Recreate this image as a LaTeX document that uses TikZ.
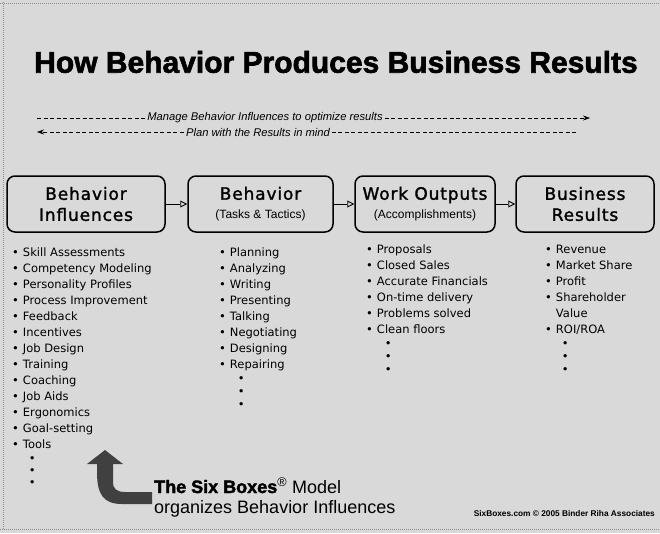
\documentclass[tikz,border=0pt]{standalone}
\usepackage{fontspec}
\setmainfont{Liberation Sans}
\newfontfamily\headfont[FakeBold=1.5,LetterSpace=5]{DejaVu Sans}
\newfontfamily\listfont{DejaVu Sans}
\newfontfamily\heavyfont[BoldFeatures={FakeBold=2}]{Liberation Sans}
\usetikzlibrary{arrows.meta,positioning}
\definecolor{scan}{gray}{0.85}
\tikzset{
  stage/.style={draw,line width=1.5pt,rounded corners=8pt,fill=scan,inner sep=0pt,
    minimum height=56pt,align=center,font=\headfont\fontsize{17}{21}\selectfont},
  flow/.style={line width=0.9pt,-{Triangle[open,length=7pt,width=7pt]}},
  guide/.style={line width=0.6pt,dash pattern=on 4pt off 2.5pt},
  itemlist/.style={anchor=north west,inner sep=0pt,align=left,
    font=\listfont\fontsize{11.5}{16}\selectfont},
}
\newcommand{\subline}[1]{{\fontspec{Liberation Sans}\fontsize{12}{14}\selectfont #1}}
\begin{document}
\begin{tikzpicture}[x=1pt,y=-1pt]
\useasboundingbox (0,0) rectangle (660,533);
\fill[scan] (0,0) rectangle (660,533);
\draw[black!45,line width=1pt,dash pattern=on 1pt off 1pt] (3,2) -- (3,530);
\draw[black!45,line width=1pt,dash pattern=on 1pt off 1pt] (0,3) -- (660,3);
\draw[black!45,line width=1pt,dash pattern=on 1pt off 1pt] (0,529) -- (660,529);
% title
\node[inner sep=0pt] (title) at (336,62) {\heavyfont\fontsize{30}{36}\selectfont\bfseries How Behavior Produces Business Results};
% dashed guides
\coordinate (manages) at (37,118);
\coordinate (managee) at (590,118);
\node[fill=scan,inner sep=2pt,font=\itshape\fontsize{11.2}{13}\selectfont] (manage) at (265,118) {Manage Behavior Influences to optimize results};
\draw[guide] (manages) -- (manage);
\draw[guide,-{Stealth[length=7pt,width=5pt]}] (manage) -- (managee);
\coordinate (plans) at (576,132);
\coordinate (plane) at (37,132);
\node[fill=scan,inner sep=2pt,font=\itshape\fontsize{11.2}{13}\selectfont] (plan) at (258,132) {Plan with the Results in mind};
\draw[guide] (plans) -- (plan);
\draw[guide,-{Stealth[length=7pt,width=5pt]}] (plan) -- (plane);
% the four boxes
\node[stage,minimum width=158pt] (influences) at (86,204) {Behavior\\Influences};
\node[stage,minimum width=145pt] (behavior) at (260.5,204) {Behavior\\[-2pt]\subline{(Tasks \& Tactics)}};
\node[stage,minimum width=140pt] (outputs) at (425,204) {Work Outputs\\[-2pt]\subline{(Accomplishments)}};
\node[stage,minimum width=138pt] (results) at (585,204) {Business\\Results};
\draw[flow] (influences) -- (behavior);
\draw[flow] (behavior) -- (outputs);
\draw[flow] (outputs) -- (results);
% lists
\node[itemlist] (influencelist) at (12,245) {\begin{tabular}{@{}l@{\hspace{4pt}}l@{}}
\textbullet & Skill Assessments\\
\textbullet & Competency Modeling\\
\textbullet & Personality Profiles\\
\textbullet & Process Improvement\\
\textbullet & Feedback\\
\textbullet & Incentives\\
\textbullet & Job Design\\
\textbullet & Training\\
\textbullet & Coaching\\
\textbullet & Job Aids\\
\textbullet & Ergonomics\\
\textbullet & Goal-setting\\
\textbullet & Tools\\[-2pt]
 & \hspace{6pt}\textbullet\\[-4pt]
 & \hspace{6pt}\textbullet\\[-4pt]
 & \hspace{6pt}\textbullet
\end{tabular}};
\node[itemlist] (tasklist) at (219,245) {\begin{tabular}{@{}l@{\hspace{4pt}}l@{}}
\textbullet & Planning\\
\textbullet & Analyzing\\
\textbullet & Writing\\
\textbullet & Presenting\\
\textbullet & Talking\\
\textbullet & Negotiating\\
\textbullet & Designing\\
\textbullet & Repairing\\[-2pt]
 & \hspace{8pt}\textbullet\\[-3pt]
 & \hspace{8pt}\textbullet\\[-3pt]
 & \hspace{8pt}\textbullet
\end{tabular}};
\node[itemlist] (outputlist) at (366,242) {\begin{tabular}{@{}l@{\hspace{4pt}}l@{}}
\textbullet & Proposals\\
\textbullet & Closed Sales\\
\textbullet & Accurate Financials\\
\textbullet & On-time delivery\\
\textbullet & Problems solved\\
\textbullet & Clean floors\\[-2pt]
 & \hspace{8pt}\textbullet\\[-3pt]
 & \hspace{8pt}\textbullet\\[-3pt]
 & \hspace{8pt}\textbullet
\end{tabular}};
\node[itemlist] (resultlist) at (545,242) {\begin{tabular}{@{}l@{\hspace{4pt}}l@{}}
\textbullet & Revenue\\
\textbullet & Market Share\\
\textbullet & Profit\\
\textbullet & Shareholder\\
 & Value\\
\textbullet & ROI/ROA\\[-2pt]
 & \hspace{6pt}\textbullet\\[-3pt]
 & \hspace{6pt}\textbullet\\[-3pt]
 & \hspace{6pt}\textbullet
\end{tabular}};
% six boxes note
\fill[black!75] (152,504) -- (122,504) .. controls (103,504) and (97,494) .. (97,472)
  -- (97,464) -- (87,464) -- (105,450) -- (123,464) -- (113,464) -- (113,482)
  .. controls (113,489) and (117,492) .. (125,492) -- (152,492) -- cycle;
\node[anchor=base west,inner sep=0pt,font=\fontsize{18}{20}\selectfont] (sixboxes) at (154,493) {{\heavyfont\bfseries The Six Boxes}\textsuperscript{\textregistered} Model};
\node[anchor=base west,inner sep=0pt,font=\fontsize{18}{20}\selectfont] (organizes) at (154,513) {organizes Behavior Influences};
\node[anchor=base east,inner sep=0pt,font=\bfseries\fontsize{8.3}{9}\selectfont] (credit) at (655,516) {SixBoxes.com \textcopyright\ 2005 Binder Riha Associates};
\end{tikzpicture}
\end{document}
